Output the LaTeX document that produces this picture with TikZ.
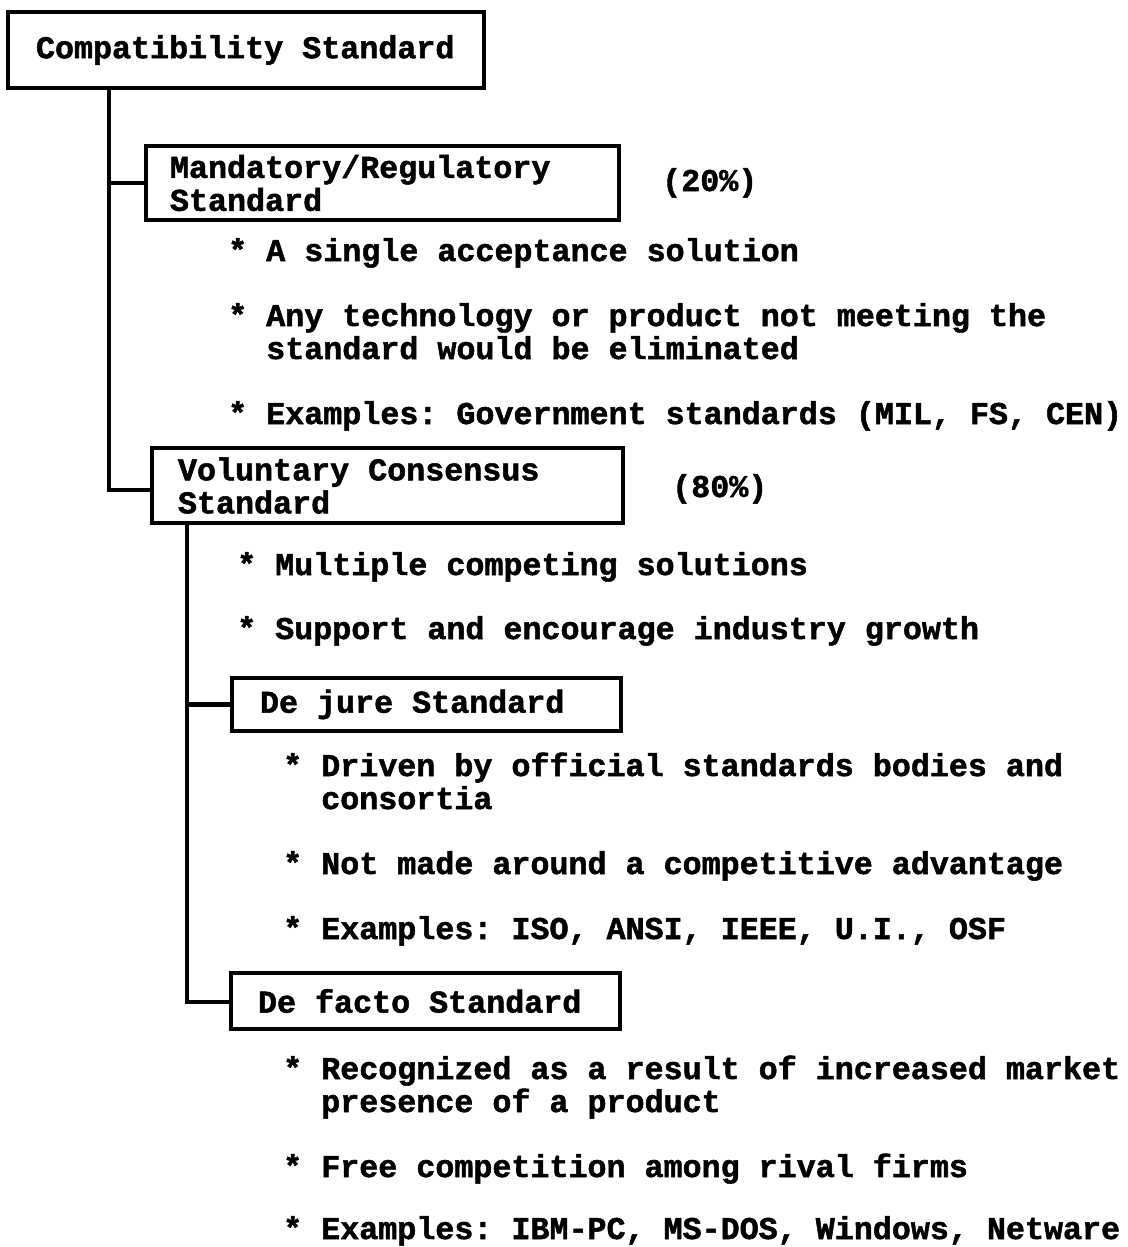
\documentclass[tikz,border=0pt]{standalone}
\usepackage{fontspec}
\setmainfont{Liberation Mono}[BoldFeatures={FakeBold=1.6}]
\begin{document}
\begin{tikzpicture}[x=1pt,y=-1pt,
  every node/.style={font=\fontsize{31.7}{33}\selectfont\bfseries\frenchspacing},
  box/.style={draw, line width=4.2pt, rectangle, align=left, inner ysep=0pt,
    execute at begin node={\spaceskip=0pt\xspaceskip=0pt}},
  item/.style={anchor=base west, inner sep=0pt, align=left,
    execute at begin node={\spaceskip=0pt\xspaceskip=0pt}},
  wire/.style={line width=4.2pt, line cap=rect}]
\useasboundingbox (0,0) rectangle (1127,1247);

% headings
\node[box, minimum width=476pt, minimum height=76pt, inner xsep=28pt, text width=420pt] (comp) at (246,50) {Compatibility Standard};
\node[box, minimum width=473pt, minimum height=74pt, inner xsep=24pt, text width=425pt] (mand) at (382.5,183) {Mandatory/Regulatory\\Standard};
\node[box, minimum width=471pt, minimum height=75pt, inner xsep=26pt, text width=419pt] (vol) at (387.5,485.5) {Voluntary Consensus\\Standard};
\node[box, minimum width=389pt, minimum height=53pt, inner xsep=28pt, text width=333pt] (jure) at (426.5,704.5) {De jure Standard};
\node[box, minimum width=389pt, minimum height=56pt, inner xsep=27pt, text width=335pt] (facto) at (425.5,1001) {De facto Standard};

% shares
\node[item] (p20) at (662,191) {(20\%)};
\node[item] (p80) at (672,497) {(80\%)};

% mandatory points (multi-line items sit on their last baseline)
\node[item] (m1) at (228,261) {* A single acceptance solution};
\node[item] (m2) at (228,359) {* Any technology or product not meeting the\\\phantom{* }standard would be eliminated};
\node[item] (m3) at (228,424) {* Examples: Government standards (MIL, FS, CEN)};

% voluntary points
\node[item] (v1) at (237,575) {* Multiple competing solutions};
\node[item] (v2) at (237,639) {* Support and encourage industry growth};

% de jure points
\node[item] (j1) at (283,809) {* Driven by official standards bodies and\\\phantom{* }consortia};
\node[item] (j2) at (283,874) {* Not made around a competitive advantage};
\node[item] (j3) at (283,939) {* Examples: ISO, ANSI, IEEE, U.I., OSF};

% de facto points
\node[item] (f1) at (283,1112) {* Recognized as a result of increased market\\\phantom{* }presence of a product};
\node[item] (f2) at (283,1177) {* Free competition among rival firms};
\node[item] (f3) at (283,1239) {* Examples: IBM-PC, MS-DOS, Windows, Netware};

% tree connectors
\coordinate (t1) at (109,490);
\coordinate (t2) at (187,1002);
\draw[wire] (comp.south -| t1) -- (t1) -- (t1 -| vol.west);
\draw[wire] (t1 |- mand.west) -- (mand.west);
\draw[wire] (vol.south -| t2) -- (t2) -- (t2 -| facto.west);
\draw[wire] (t2 |- jure.west) -- (jure.west);
\end{tikzpicture}
\end{document}
